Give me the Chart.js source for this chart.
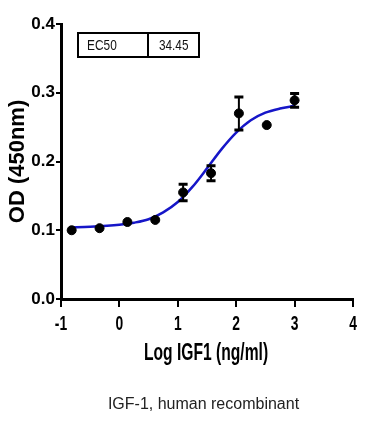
<!DOCTYPE html>
<html>
<head>
<meta charset="utf-8">
<script src="https://cdn.jsdelivr.net/npm/chart.js@4.4.1/dist/chart.umd.min.js"></script>
<style>
  body { margin: 0; background: #fff; }
  #wrap { position: relative; width: 389px; height: 421px; }
  #caption {
    position: absolute; left: 9px; width: 389px; top: 395px;
    text-align: center; font: 16px "Liberation Sans", Arial, sans-serif; color: #222;
    line-height: 18px;
  }
</style>
</head>
<body>
<div id="wrap">
  <canvas id="odChart" width="389" height="421"></canvas>
  <div id="caption">IGF-1, human recombinant</div>
</div>
<script>
// measured points (log dose, mean OD, SEM)
const doseLog = [-0.817, -0.340, 0.137, 0.614, 1.091, 1.569, 2.046, 2.523, 3.000]
const odMean = [0.100, 0.103, 0.112, 0.115, 0.155, 0.183, 0.270, 0.253, 0.289]
const odErr = [0, 0, 0, 0, 0.012, 0.011, 0.024, 0, 0.010]

// fitted curve
const fitLog = [-0.85, -0.5, 0, 0.25, 0.5, 0.75, 1.0, 1.25, 1.5, 1.75, 2.0, 2.25, 2.5, 2.75, 3.0]
const fitOD = [0.104, 0.105, 0.108, 0.111, 0.116, 0.126, 0.141, 0.163, 0.190, 0.218, 0.242, 0.260, 0.271, 0.277, 0.281]

const xTicks = [-1, 0, 1, 2, 3, 4]
const yTicks = [0.0, 0.1, 0.2, 0.3, 0.4]
const xTitle = 'Log IGF1 (ng/ml)'
const yTitle = 'OD (450nm)'
const ec50Label = 'EC50'
const ec50Value = '34.45'

const sans = '"Liberation Sans", Arial, sans-serif'

// draw text squeezed horizontally, like the narrow font of the original
const narrowText = (ctx, text, x, y, font, squeeze) => {
    ctx.save()
    ctx.font = font
    ctx.translate(x, y)
    ctx.scale(squeeze, 1)
    ctx.fillText(text, 0, 0)
    ctx.restore()
}

const errorBars = {
    id: 'errorBars',
    afterDatasetsDraw(chart) {
        const ctx = chart.ctx
        const meta = chart.getDatasetMeta(0)
        const yScale = chart.scales.y
        ctx.save()
        ctx.strokeStyle = '#000'
        meta.data.forEach((pt, i) => {
            if (!odErr[i]) return
            const top = yScale.getPixelForValue(odMean[i] + odErr[i])
            const bot = yScale.getPixelForValue(odMean[i] - odErr[i])
            ctx.lineWidth = 2
            ctx.beginPath()
            ctx.moveTo(pt.x, top)
            ctx.lineTo(pt.x, bot)
            ctx.stroke()
            ctx.lineWidth = 3
            ctx.beginPath()
            ctx.moveTo(pt.x - 4.5, top)
            ctx.lineTo(pt.x + 4.5, top)
            ctx.moveTo(pt.x - 4.5, bot)
            ctx.lineTo(pt.x + 4.5, bot)
            ctx.stroke()
        })
        ctx.restore()
    }
}

// x tick labels and x title in a condensed bold face
const xLabels = {
    id: 'xLabels',
    afterDraw(chart) {
        const ctx = chart.ctx
        const xScale = chart.scales.x
        const a = chart.chartArea
        ctx.save()
        ctx.fillStyle = '#000'
        ctx.textAlign = 'center'
        ctx.textBaseline = 'alphabetic'
        xTicks.forEach(v => {
            narrowText(ctx, String(v), xScale.getPixelForValue(v), a.bottom + 31, 'bold 21px ' + sans, 0.66)
        })
        narrowText(ctx, xTitle, (a.left + a.right) / 2 - 1, a.bottom + 60.5, 'bold 23px ' + sans, 0.68)
        ctx.restore()
    }
}

const ec50Box = {
    id: 'ec50Box',
    afterDraw(chart) {
        const ctx = chart.ctx
        const a = chart.chartArea
        const x = a.left + 17, y = a.top + 9, w = 121, h = 24, split = 70
        ctx.save()
        ctx.strokeStyle = '#000'
        ctx.lineWidth = 2
        ctx.strokeRect(x, y, w, h)
        ctx.beginPath()
        ctx.moveTo(x + split, y)
        ctx.lineTo(x + split, y + h)
        ctx.stroke()
        ctx.fillStyle = '#111'
        ctx.textBaseline = 'middle'
        narrowText(ctx, ec50Label, x + 9, y + h / 2 + 1, '14px ' + sans, 0.85)
        narrowText(ctx, ec50Value, x + split + 11, y + h / 2 + 1, '14px ' + sans, 0.84)
        ctx.restore()
    }
}

const ctx = document.getElementById('odChart')
new Chart(ctx, {
    type: 'scatter',
    data: {
        datasets: [
            {
                label: 'OD',
                data: doseLog.map((x, i) => ({ x: x, y: odMean[i] })),
                backgroundColor: '#000',
                borderColor: '#000',
                pointRadius: 4.5,
                pointHoverRadius: 4.5,
                showLine: false,
            },
            {
                label: 'fit',
                data: fitLog.map((x, i) => ({ x: x, y: fitOD[i] })),
                borderColor: '#1616c8',
                borderWidth: 2.5,
                pointRadius: 0,
                showLine: true,
                cubicInterpolationMode: 'monotone',
            },
        ]
    },
    options: {
        responsive: false,
        animation: false,
        layout: { padding: { left: 0, right: 36, top: 24, bottom: 52 } },
        plugins: { legend: { display: false }, tooltip: { enabled: false } },
        scales: {
            x: {
                type: 'linear',
                min: -1, max: 4,
                afterBuildTicks: (scale) => { scale.ticks = xTicks.map(v => ({ value: v })) },
                afterFit: (scale) => { scale.height = 70 },
                border: { display: true, color: '#000', width: 3 },
                grid: { display: true, drawOnChartArea: false, drawTicks: true, tickLength: 8, color: '#000', lineWidth: 2 },
                ticks: { display: false },
                title: { display: false },
            },
            y: {
                type: 'linear',
                min: 0, max: 0.4,
                afterBuildTicks: (scale) => { scale.ticks = yTicks.map(v => ({ value: v })) },
                afterFit: (scale) => { scale.width = 61 },
                border: { display: true, color: '#000', width: 3 },
                grid: { display: true, drawOnChartArea: false, drawTicks: true, tickLength: 5, color: '#000', lineWidth: 2 },
                ticks: { color: '#000', padding: 1, font: { family: sans, size: 17, weight: 'bold' }, callback: (v) => v.toFixed(1) },
                title: { display: true, text: yTitle, color: '#000', padding: { top: 5 }, font: { family: sans, size: 22, weight: 'bold' } },
            }
        }
    },
    plugins: [errorBars, xLabels, ec50Box]
})
</script>
</body>
</html>
